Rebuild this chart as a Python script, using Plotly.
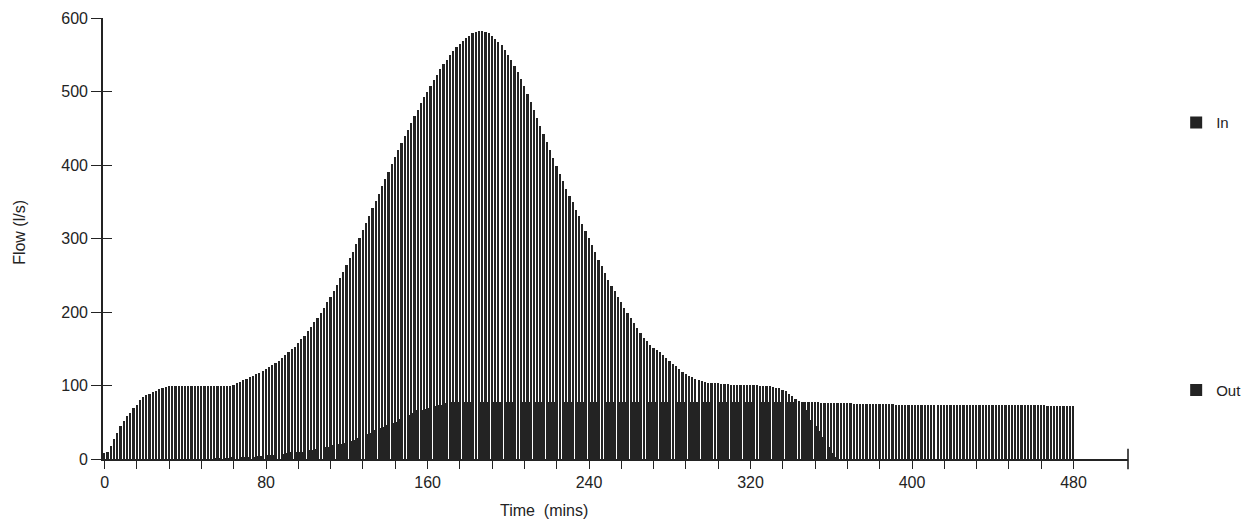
import plotly.graph_objects as go

# Flow (l/s), one value every 1.6 minutes from t = 0 to t = 480
inflow = [
    8, 10, 18, 27, 36, 45, 52, 58, 63, 69,
    74, 80, 84, 87, 89, 91, 93, 95, 97, 98,
    99, 100, 100, 100, 100, 100, 100, 100, 100, 100,
    100, 100, 100, 100, 100, 100, 100, 100, 100, 100,
    101, 103, 105, 107, 109, 111, 113, 115, 117, 120,
    122, 125, 128, 131, 134, 137, 141, 145, 149, 153,
    158, 163, 168, 174, 180, 186, 192, 199, 206, 213,
    221, 229, 237, 246, 255, 264, 273, 282, 292, 301,
    311, 321, 331, 341, 351, 361, 371, 381, 391, 401,
    411, 420, 430, 439, 448, 457, 466, 475, 484, 492,
    500, 508, 516, 523, 530, 537, 543, 549, 555, 560,
    565, 569, 573, 576, 579, 581, 582, 582, 581, 579,
    576, 572, 568, 563, 557, 550, 543, 535, 526, 517,
    507, 497, 486, 475, 464, 453, 442, 431, 420, 409,
    398, 388, 378, 368, 358, 349, 339, 330, 320, 310,
    301, 291, 281, 271, 262, 253, 244, 236, 228, 220,
    213, 206, 199, 192, 185, 178, 171, 165, 160, 155,
    151, 148, 145, 141, 137, 133, 129, 126, 122, 119,
    116, 113, 111, 109, 107, 106, 105, 104, 104, 103,
    103, 102, 102, 102, 101, 101, 101, 101, 101, 101,
    101, 101, 101, 100, 100, 100, 99, 98, 97, 96,
    94, 92, 89, 86, 82, 79, 78, 77, 77, 77,
    77, 77, 76, 76, 76, 76, 76, 76, 76, 76,
    76, 76, 75, 75, 75, 75, 75, 75, 75, 75,
    75, 75, 75, 75, 75, 74, 74, 74, 74, 74,
    74, 74, 74, 74, 74, 74, 74, 74, 74, 74,
    74, 74, 74, 73, 73, 73, 73, 73, 73, 73,
    73, 73, 73, 73, 73, 73, 73, 73, 73, 73,
    73, 73, 73, 73, 73, 73, 73, 73, 73, 73,
    73, 73, 72, 72, 72, 72, 72, 72, 72, 72,
    72,
]

outflow = [
    0, 0, 0, 0, 0, 0, 0, 0, 0, 0,
    0, 0, 0, 0, 0, 0, 0, 0, 0, 0,
    0, 0, 0, 0, 0, 0, 0, 0, 0, 0,
    0, 0, 0, 0, 1, 1, 1, 1, 1, 2,
    2, 2, 2, 3, 3, 3, 3, 4, 4, 4,
    5, 5, 6, 6, 7, 7, 8, 8, 9, 9,
    10, 10, 11, 12, 12, 13, 14, 15, 16, 17,
    18, 19, 20, 21, 22, 23, 24, 26, 28, 30,
    32, 34, 36, 38, 40, 42, 44, 46, 48, 49,
    51, 54, 56, 58, 60, 62, 64, 66, 67, 68,
    70, 71, 72, 73, 74, 75, 76, 77, 77, 78,
    78, 78, 78, 78, 78, 78, 78, 78, 78, 78,
    78, 78, 78, 78, 78, 78, 78, 78, 78, 78,
    78, 78, 78, 78, 78, 78, 78, 78, 78, 78,
    78, 78, 78, 78, 78, 78, 78, 78, 78, 78,
    78, 78, 78, 78, 78, 78, 78, 78, 78, 78,
    78, 78, 78, 78, 78, 78, 78, 78, 78, 78,
    78, 78, 78, 78, 78, 78, 78, 78, 78, 78,
    78, 78, 78, 78, 78, 78, 78, 78, 78, 78,
    78, 78, 78, 78, 78, 78, 78, 78, 78, 78,
    78, 78, 78, 78, 78, 78, 78, 78, 78, 78,
    78, 78, 78, 78, 78, 78, 77, 67, 60, 53,
    45, 38, 30, 23, 16, 8, 3, 0, 0, 0,
    0, 0, 0, 0, 0, 0, 0, 0, 0, 0,
    0, 0, 0, 0, 0, 0, 0, 0, 0, 0,
    0, 0, 0, 0, 0, 0, 0, 0, 0, 0,
    0, 0, 0, 0, 0, 0, 0, 0, 0, 0,
    0, 0, 0, 0, 0, 0, 0, 0, 0, 0,
    0, 0, 0, 0, 0, 0, 0, 0, 0, 0,
    0, 0, 0, 0, 0, 0, 0, 0, 0, 0,
    0,
]

time_step_min = 1.6
times = [round(i * time_step_min, 1) for i in range(len(inflow))]

series_names = ["In", "Out"]
y_tick_vals = [0, 100, 200, 300, 400, 500, 600]
x_minor_step = 16
x_label_vals = [0, 80, 160, 240, 320, 400, 480]
x_tick_vals = list(range(0, 481, x_minor_step))
x_tick_text = [str(v) if v in x_label_vals else "" for v in x_tick_vals]

INK = "#232323"
FONT = "Liberation Sans, Arial, sans-serif"

fig = go.Figure()
fig.add_trace(go.Bar(x=times, y=inflow, width=0.85, name=series_names[0],
                     marker=dict(color=INK, line=dict(width=0)), legendgroup="a"))
fig.add_trace(go.Bar(x=times, y=outflow, width=1.45, name=series_names[1],
                     marker=dict(color=INK, line=dict(width=0)), legendgroup="b"))
# invisible trace so the overlay axis (inner tick halves) is drawn
fig.add_trace(go.Scatter(x=[0], y=[0], yaxis="y2", mode="markers",
                         marker=dict(opacity=0), showlegend=False, hoverinfo="skip"))

fig.update_layout(
    width=1245, height=529, autosize=False,
    margin=dict(l=103, r=117, t=18, b=70, autoexpand=False),
    paper_bgcolor="white", plot_bgcolor="white",
    barmode="overlay", bargap=0,
    font=dict(family=FONT, color=INK, size=15),
    showlegend=True,
    legend=dict(x=1.047, y=0.80, xanchor="left", yanchor="top",
                tracegroupgap=245, font=dict(size=15, color=INK),
                bgcolor="rgba(0,0,0,0)", traceorder="grouped"),
    xaxis=dict(range=[-0.8, 507], tickmode="array", tickvals=x_tick_vals,
               ticktext=x_tick_text, ticks="outside", ticklen=8, tickwidth=1.4,
               tickcolor=INK, showline=True, linecolor=INK, linewidth=1.6,
               showgrid=False, zeroline=False, tickfont=dict(size=16, color=INK)),
    yaxis=dict(range=[0, 600], tickmode="array", tickvals=y_tick_vals,
               ticks="outside", ticklen=10, tickwidth=1.4, tickcolor=INK,
               showline=True, linecolor=INK, linewidth=1.6, showgrid=False,
               zeroline=False, tickfont=dict(size=16, color=INK)),
    yaxis2=dict(range=[0, 600], overlaying="y", side="left", tickmode="array",
                tickvals=y_tick_vals, ticks="inside", ticklen=9, tickwidth=1.4,
                tickcolor=INK, showticklabels=False, showline=False,
                showgrid=False, zeroline=False),
    annotations=[
        dict(text="Flow (l/s)", xref="paper", yref="paper", x=-0.081, y=0.515,
             xanchor="center", yanchor="middle",
             textangle=-90, showarrow=False, font=dict(size=16, color=INK)),
        dict(text="Time\u00a0 (mins)", xref="paper", yref="paper", x=0.430, y=-0.116,
             xanchor="center", yanchor="middle",
             showarrow=False, font=dict(size=16, color=INK)),
    ],
    shapes=[
        dict(type="line", xref="paper", yref="paper", x0=1, x1=1, y0=-0.023, y1=0.023,
             line=dict(color=INK, width=1.6)),
    ],
)

fig.write_html("out.html", config={"displayModeBar": False},
               post_script="document.body.style.margin='0';")
